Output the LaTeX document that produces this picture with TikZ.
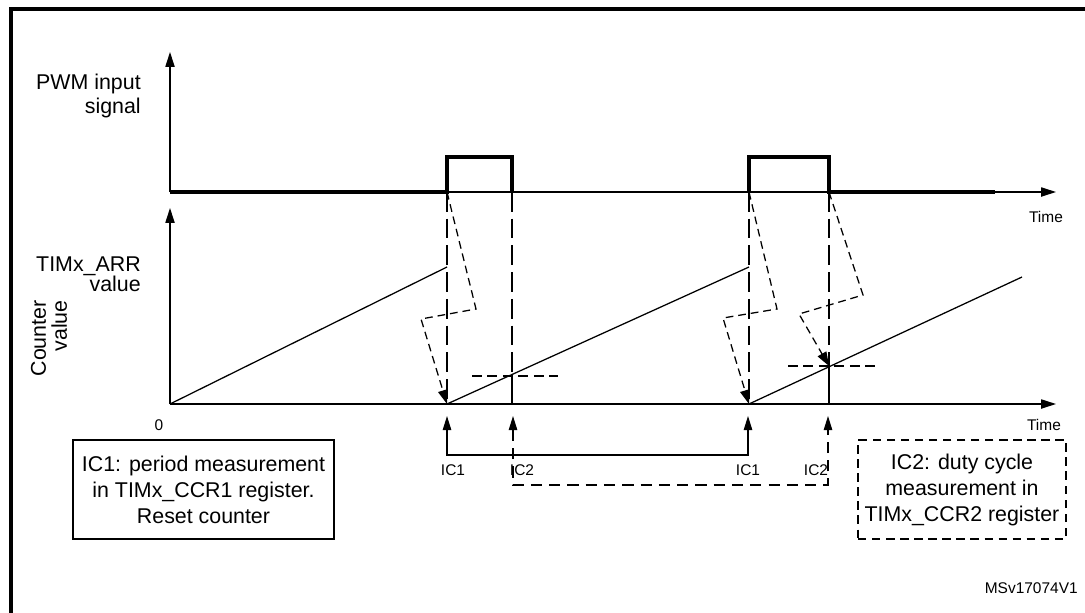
\documentclass[tikz,border=0pt]{standalone}
\usepackage{fontspec}
\setmainfont{Liberation Sans}
\usetikzlibrary{arrows.meta}

\begin{document}
\begin{tikzpicture}[x=0.025cm,y=-0.025cm,
    axisline/.style={line width=0.9pt,-{Triangle[length=10.5pt,width=6.5pt]}},
    sig/.style={line width=2.6pt},
    guide/.style={line width=0.9pt,dash pattern=on 14pt off 5pt},
    capt/.style={line width=0.9pt,dash pattern=on 5.5pt off 3.5pt,-{Triangle[length=10pt,width=7pt]}},
    level/.style={line width=0.9pt,dash pattern=on 7pt off 4pt},
    big/.style={font=\fontsize{15.2}{16.5}\selectfont,inner sep=0pt},
    small/.style={font=\fontsize{11}{12}\selectfont,inner sep=0pt},
    note/.style={draw,line width=0.9pt,big,font=\fontsize{15.2}{18.5}\selectfont,align=center,minimum height=2.475cm}]
    \clip (0,0) rectangle (1085,612);
    \draw[line width=2.4pt] (11,640) -- (11,9) -- (1100,9);
    % points on the time axes
    \coordinate (rise1) at (447,192);
    \coordinate (fall1) at (512,192);
    \coordinate (rise2) at (749,192);
    \coordinate (fall2) at (829,192);
    \coordinate (reset1) at (447,404);
    \coordinate (reset2) at (749,404);
    \coordinate (cross1) at (512,375);
    \coordinate (cross2) at (829,366);
    % axes
    \draw[axisline] (170,192) -- (170,52);
    \draw[axisline] (170,192) -- (1056,192);
    \draw[axisline] (170,404) -- (170,208);
    \draw[axisline] (170,404) -- (1056,404);
    % input signal
    \draw[sig] (170,192) -- (rise1) -- (447,157) -- (512,157) -- (fall1);
    \draw[sig] (rise2) -- (749,157) -- (829,157) -- (fall2) -- (995,192);
    % counter
    \draw[line width=0.9pt] (170,404) -- (447,267);
    \draw[line width=0.9pt] (reset1) -- (749,267);
    \draw[line width=0.9pt] (reset2) -- (1022,277);
    \draw[guide] (rise1) -- (reset1);
    \draw[guide] (rise2) -- (reset2);
    \draw[guide] (fall1) -- (cross1);
    \draw[guide] (fall2) -- (cross2);
    \draw[line width=0.9pt] (cross1) -- (512,404);
    \draw[line width=0.9pt] (cross2) -- (829,404);
    \draw[level] (472,376) -- (558,376);
    \draw[level] (788,366) -- (875,366);
    % captures
    \draw[capt] (rise1) -- (476,309) -- (421,319) -- (reset1);
    \draw[capt] (rise2) -- (777,309) -- (723,318) -- (reset2);
    \draw[capt] (fall2) -- (863,295) -- (799,314) -- (cross2);
    \draw[line width=0.9pt,{Triangle[length=10pt,width=6pt]}-{Triangle[length=10pt,width=6pt]}]
      (447,416) |- (748,455) -- (748,416);
    \draw[line width=0.9pt,dash pattern=on 8pt off 5pt,{Triangle[length=10pt,width=6pt]}-{Triangle[length=10pt,width=6pt]}]
      (513,416) |- (828,485) -- (828,416);
    % labels
    \node[big,align=right,anchor=east] (pwm) at (141,96) {PWM input\\signal};
    \node[big,align=right,anchor=east,font=\fontsize{15.2}{14.5}\selectfont] (arr) at (141,274) {TIMx\_ARR\\value};
    \node[big,align=right,anchor=east,rotate=90,font=\fontsize{15.2}{15}\selectfont] (cnt) at (49,300) {Counter\\value};
    \node[small] (time1) at (1046,217) {Time};
    \node[small] (time2) at (1044,425) {Time};
    \node[small] (zero) at (159,425) {0};
    \node[small] (ic1a) at (453,470) {IC1};
    \node[small] (ic2a) at (522,470) {IC2};
    \node[small] (ic1b) at (748,470) {IC1};
    \node[small] (ic2b) at (816,470) {IC2};
    \node[note,minimum width=6.525cm] (per) at (203.5,489.5) {IC1: period measurement\\in TIMx\_CCR1 register.\\Reset counter};
    \node[note,minimum width=5.2cm,dash pattern=on 6pt off 4pt] (duty) at (962,489.5) {IC2: duty cycle\\measurement in\\TIMx\_CCR2 register};
    \node[small,anchor=east] (ref) at (1078,588) {MSv17074V1};
\end{tikzpicture}
\end{document}
